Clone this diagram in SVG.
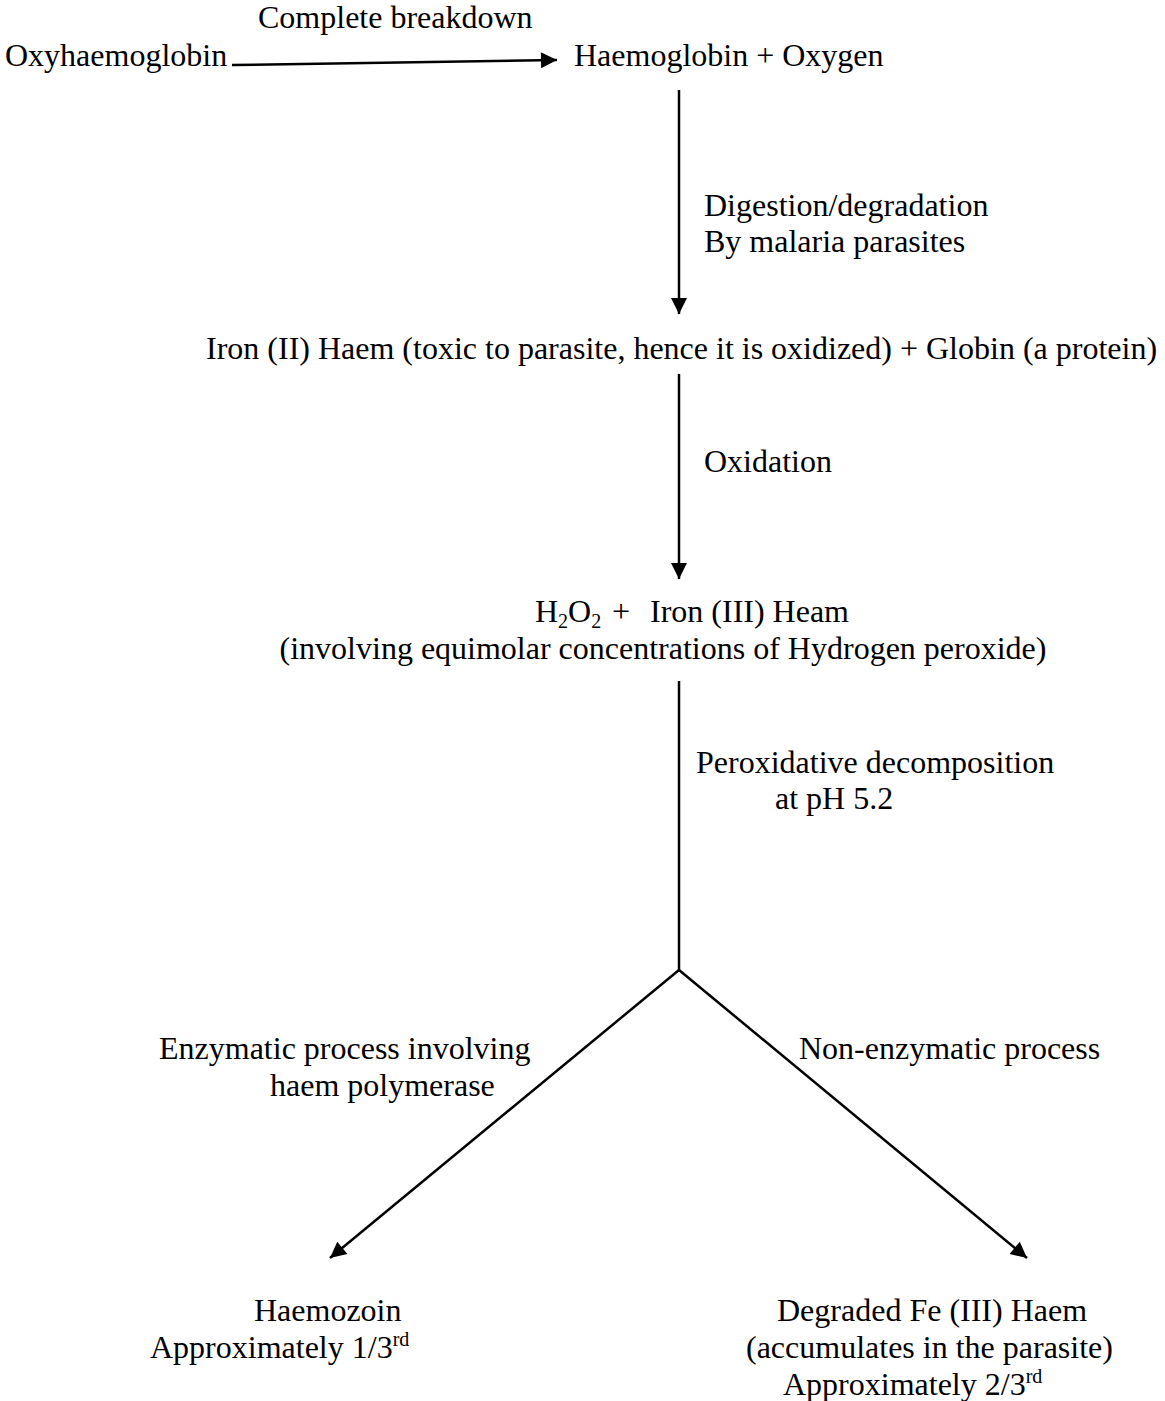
<svg xmlns="http://www.w3.org/2000/svg" width="1165" height="1401" viewBox="0 0 1165 1401">
<style>
text{font-family:"Liberation Serif","Times New Roman",serif;font-size:32px;fill:#000}
.m{text-anchor:middle}
.c{stroke:#000;stroke-width:2.5;fill:none}
.sub{font-size:20px}
</style>
<defs>
<marker id="ah" viewBox="0 0 10 10" refX="10" refY="5" markerWidth="18" markerHeight="16" markerUnits="userSpaceOnUse" orient="auto">
<path d="M0,0 L10,5 L0,10 z" fill="#000"/>
</marker>
</defs>
<rect width="1165" height="1401" fill="#fff"/>
<g id="connectors">
<line class="c" x1="232" y1="65" x2="557" y2="60" marker-end="url(#ah)"/>
<line class="c" x1="679" y1="90" x2="679" y2="314" marker-end="url(#ah)"/>
<line class="c" x1="679" y1="374" x2="679" y2="579" marker-end="url(#ah)"/>
<line class="c" x1="679" y1="681" x2="679" y2="970"/>
<line class="c" x1="679" y1="970" x2="330" y2="1258" marker-end="url(#ah)"/>
<line class="c" x1="679" y1="970" x2="1027" y2="1258" marker-end="url(#ah)"/>
</g>
<g id="label-complete"><text x="258" y="28">Complete breakdown</text></g>
<g id="oxyhaemoglobin"><text x="5" y="66">Oxyhaemoglobin</text></g>
<g id="haemoglobin-oxygen"><text x="574" y="66">Haemoglobin + Oxygen</text></g>
<g id="label-digestion"><text x="704" y="216">Digestion/degradation</text><text x="704" y="252">By malaria parasites</text></g>
<g id="iron-ii"><text x="206" y="359">Iron (II) Haem (toxic to parasite, hence it is oxidized) + Globin (a protein)</text></g>
<g id="label-oxidation"><text x="704" y="472">Oxidation</text></g>
<g id="iron-iii"><text x="535" y="622">H<tspan class="sub" dy="6">2</tspan><tspan dy="-6">O</tspan><tspan class="sub" dy="6">2</tspan></text><text x="612" y="622">+</text><text x="650" y="622">Iron (III) Heam</text><text class="m" x="663" y="659">(involving equimolar concentrations of Hydrogen peroxide)</text></g>
<g id="label-peroxidative"><text x="696" y="773">Peroxidative decomposition</text><text x="775" y="809">at pH 5.2</text></g>
<g id="label-enzymatic"><text x="159" y="1059">Enzymatic process involving</text><text x="270" y="1096">haem polymerase</text></g>
<g id="label-nonenzymatic"><text x="799" y="1059">Non-enzymatic process</text></g>
<g id="haemozoin"><text x="254" y="1321">Haemozoin</text><text x="150" y="1358">Approximately 1/3<tspan class="sub" dy="-12">rd</tspan></text></g>
<g id="degraded"><text x="777" y="1321">Degraded Fe (III) Haem</text><text x="746" y="1358">(accumulates in the parasite)</text><text x="783" y="1395">Approximately 2/3<tspan class="sub" dy="-12">rd</tspan></text></g>
</svg>
